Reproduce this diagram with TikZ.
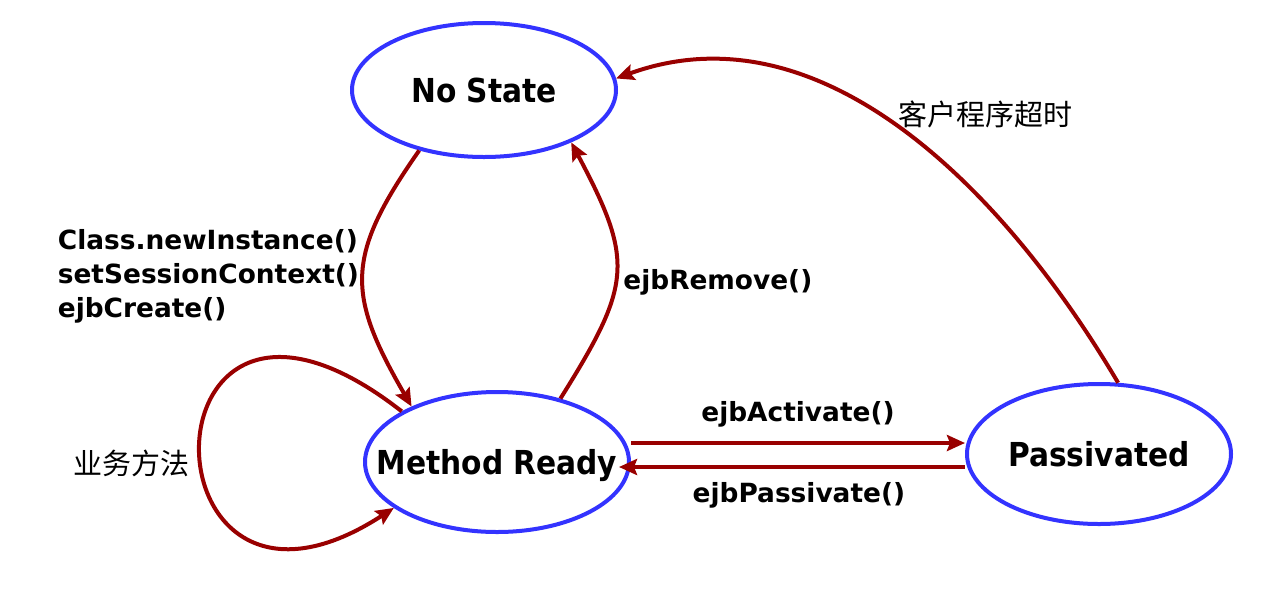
\documentclass[tikz,border=0pt]{standalone}
\usepackage{fontspec}
\setmainfont{DejaVu Sans}
\newfontfamily\statefont[FakeStretch=0.9]{DejaVu Sans}
\newfontfamily\cjk{Noto Sans CJK SC}
\usetikzlibrary{shapes.geometric, positioning, arrows.meta}
\definecolor{stateblue}{RGB}{51,51,255}
\definecolor{arrowred}{RGB}{153,0,0}

\tikzset{
  bean/.style={ellipse, draw=stateblue, line width=2pt, minimum width=132pt,
    minimum height=70pt, inner xsep=-20pt, inner ysep=0pt, text depth=0pt,
    font=\statefont\bfseries\fontsize{16.5pt}{20pt}\selectfont},
  trans/.style={draw=arrowred, line width=2pt, -{Stealth[length=9pt,width=8pt,inset=1.5pt]}},
  call/.style={font=\bfseries\fontsize{13.2pt}{17pt}\selectfont, inner sep=0pt},
  hanzi/.style={font=\cjk\fontsize{14.5pt}{17pt}\selectfont, inner sep=0pt}
}

\begin{document}
\begin{tikzpicture}[x=0.5pt, y=-0.5pt, on grid]
   \useasboundingbox (0,0) rectangle (1280,590);

   \node[bean] (mr) at (497,462) {Method Ready};
   \node[bean, minimum height=67pt, above=186pt of mr, xshift=-6.5pt] (ns) {No State};
   \node[bean, right=301pt of mr, yshift=4pt] (p) {Passivated};

   \draw[trans] (ns.223) .. controls +(235:65pt) and +(120:65pt) ..
      node[call, pos=0.5, left=1pt, align=left] {Class.newInstance()\\setSessionContext()\\ejbCreate()} (mr.147);
   \draw[trans] (mr.45) .. controls +(58:67.5pt) and +(298:67.5pt) ..
      node[call, pos=0.45, right=3pt] {ejbRemove()} (ns.329);
   \draw[trans] (mr.152) .. controls +(142:170pt) and +(213:154pt) ..
      node[hanzi, pos=0.5, left=4.5pt, yshift=-9.5pt] {业务方法} (mr.204);
   \draw[trans] ([yshift=9.5pt]mr.east) -- node[call, above=7pt] {ejbActivate()} ([yshift=5.5pt]p.west);
   \draw[trans] ([yshift=-6.5pt]p.west) -- node[call, pos=0.48, below=6.5pt] {ejbPassivate()} ([xshift=-6pt,yshift=-2.5pt]mr.east);
   \draw[trans] (p.75) .. controls +(120.5:110pt) and +(20:110pt) ..
      node[hanzi, pos=0.5, anchor=base west, xshift=-3pt, yshift=3pt] {客户程序超时} (ns.5);
\end{tikzpicture}
\end{document}
